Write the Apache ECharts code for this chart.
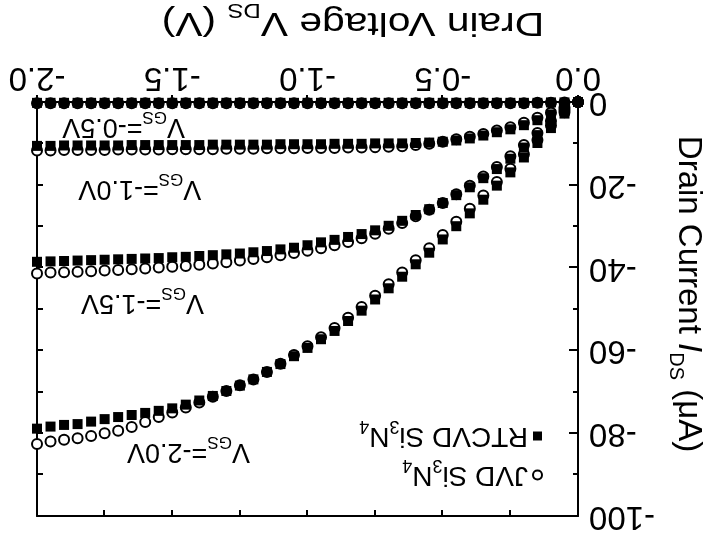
<!DOCTYPE html>
<html><head><meta charset="utf-8">
<script src="https://cdn.jsdelivr.net/npm/echarts@6/dist/echarts.min.js"></script>
<style>
html,body{margin:0;padding:0;background:#fff;overflow:hidden}
#wrap{width:703px;height:537px;transform:rotate(180deg);transform-origin:50% 50%}
#c{width:703px;height:537px}
</style></head>
<body><div id="wrap"><div id="c"></div></div>
<script>
// Drain voltage V_DS (V)
const vds = [0, -0.05, -0.1, -0.15, -0.2, -0.25, -0.3, -0.35, -0.4, -0.45, -0.5, -0.55, -0.6, -0.65, -0.7, -0.75, -0.8, -0.85, -0.9, -0.95, -1.0,
  -1.05, -1.1, -1.15, -1.2, -1.25, -1.3, -1.35, -1.4, -1.45, -1.5, -1.55, -1.6, -1.65, -1.7, -1.75, -1.8, -1.85, -1.9, -1.95, -2.0];

// RTCVD Si3N4 (filled squares), I_DS in uA
const rtcvd_vgs05 = [0, -0.1, -0.1, -0.2, -0.2, -0.2, -0.2, -0.2, -0.2, -0.2, -0.2, -0.2, -0.2, -0.2, -0.2, -0.2, -0.2, -0.2, -0.2, -0.2, -0.2,
  -0.2, -0.2, -0.2, -0.2, -0.2, -0.2, -0.2, -0.2, -0.2, -0.2, -0.2, -0.2, -0.2, -0.2, -0.2, -0.2, -0.2, -0.2, -0.2, -0.2];
const rtcvd_vgs10 = [0, -1.5, -3.0, -4.4, -5.6, -6.6, -7.3, -8.1, -8.8, -9.3, -9.6, -9.8, -9.9, -10.0, -10.0, -10.0, -10.1, -10.1, -10.1, -10.2, -10.2,
  -10.2, -10.2, -10.3, -10.3, -10.3, -10.3, -10.3, -10.4, -10.4, -10.4, -10.4, -10.4, -10.4, -10.5, -10.5, -10.5, -10.5, -10.5, -10.6, -10.6];
const rtcvd_vgs15 = [0, -2.2, -5.0, -8.0, -11.0, -13.7, -16.2, -18.4, -20.6, -22.5, -24.4, -25.9, -27.3, -28.7, -29.9, -31.0, -31.9, -32.6, -33.3, -33.9, -34.6,
  -35.2, -35.6, -36.0, -36.3, -36.6, -36.8, -37.0, -37.2, -37.4, -37.5, -37.7, -37.8, -37.9, -38.0, -38.1, -38.2, -38.3, -38.4, -38.5, -38.6];
const rtcvd_vgs20 = [0, -2.8, -6.3, -9.9, -13.4, -17.0, -20.2, -23.6, -26.9, -30.0, -33.2, -36.4, -39.2, -42.2, -45.0, -47.7, -50.4, -52.9, -55.3, -57.3, -59.4,
  -61.4, -63.3, -65.2, -67.0, -68.5, -69.8, -71.0, -72.1, -73.1, -74.0, -74.6, -75.1, -75.6, -76.1, -76.6, -77.2, -77.8, -78.0, -78.4, -78.9];

// JVD Si3N4 (open circles), I_DS in uA
const jvd_vgs05 = [0, -0.1, -0.2, -0.2, -0.3, -0.3, -0.3, -0.3, -0.3, -0.3, -0.3, -0.3, -0.3, -0.3, -0.3, -0.3, -0.3, -0.3, -0.3, -0.3, -0.3,
  -0.3, -0.3, -0.3, -0.3, -0.3, -0.3, -0.3, -0.3, -0.3, -0.3, -0.3, -0.3, -0.3, -0.3, -0.3, -0.3, -0.3, -0.3, -0.3, -0.3];
const jvd_vgs10 = [0, -1.3, -2.6, -3.8, -5.0, -6.1, -6.9, -7.7, -8.4, -9.0, -9.6, -10.1, -10.4, -10.7, -10.8, -10.9, -11.0, -11.0, -11.1, -11.1, -11.1,
  -11.2, -11.2, -11.2, -11.3, -11.3, -11.3, -11.4, -11.4, -11.4, -11.4, -11.5, -11.5, -11.5, -11.5, -11.6, -11.6, -11.6, -11.6, -11.7, -11.7];
const jvd_vgs15 = [0, -1.9, -4.6, -7.5, -10.4, -13.1, -15.7, -18.0, -20.2, -22.3, -24.4, -26.0, -27.6, -29.2, -30.6, -31.8, -32.9, -33.8, -34.6, -35.3, -35.9,
  -36.5, -37.0, -37.5, -37.9, -38.3, -38.7, -39.0, -39.3, -39.6, -39.8, -40.0, -40.2, -40.4, -40.6, -40.7, -40.9, -41.0, -41.1, -41.2, -41.4];
const jvd_vgs20 = [0, -2.5, -5.7, -9.2, -12.6, -16.1, -19.3, -22.6, -25.8, -28.9, -32.1, -35.3, -38.2, -41.2, -44.0, -46.8, -49.5, -52.1, -54.6, -56.8, -59.0,
  -61.1, -63.2, -65.2, -67.0, -68.4, -69.8, -71.2, -72.6, -73.8, -75.0, -76.1, -77.3, -78.5, -79.4, -80.0, -80.7, -81.2, -81.6, -82.0, -82.6];

// Tick labels
const xTickValues = [0, -0.5, -1.0, -1.5, -2.0];
const xTickLabels = ['0.0', '-0.5', '-1.0', '-1.5', '-2.0'];
const yTickValues = [0, -20, -40, -60, -80, -100];
const yTickLabels = ['0', '-20', '-40', '-60', '-80', '-100'];

// Curve annotations: [V_DS, I_DS, V_GS text]
const annotations = [
  [-1.68, -6.0, '-0.5'],
  [-1.62, -21.0, '-1.0'],
  [-1.61, -48.5, '-1.5'],
  [-1.44, -84.5, '-2.0']
];

const FONT = "'Liberation Sans', Arial, Helvetica, sans-serif";
const pair = (ys) => vds.map((v, i) => [v, ys[i]]);
const lookup = (vals, labels) => (v) => {
  for (let i = 0; i < vals.length; i++) if (Math.abs(vals[i] - v) < 1e-9) return labels[i];
  return '';
};

const jvdStyle = { color: '#fff', borderColor: '#000', borderWidth: 2, opacity: 1 };
const rtStyle = { color: '#000', opacity: 1 };
const mk = (name, data, symbol, style, size) => ({
  type: 'scatter', name, data: pair(data), symbol, symbolSize: size,
  itemStyle: style, clip: false, emphasis: { disabled: true }
});

const subRich = (fs, sfs, pad) => ({
  t: { fontSize: fs, fontFamily: FONT, color: '#000' },
  i: { fontSize: fs, fontFamily: FONT, color: '#000', fontStyle: 'italic' },
  s: { fontSize: sfs, lineHeight: sfs, fontFamily: FONT, color: '#000', padding: [pad, 0, 0, 0] }
});

const series = [
  mk('JVD', jvd_vgs05, 'circle', jvdStyle, 10),
  mk('JVD', jvd_vgs10, 'circle', jvdStyle, 10),
  mk('JVD', jvd_vgs15, 'circle', jvdStyle, 10),
  mk('JVD', jvd_vgs20, 'circle', jvdStyle, 10),
  mk('RTCVD', rtcvd_vgs05, 'rect', rtStyle, 10),
  mk('RTCVD', rtcvd_vgs10, 'rect', rtStyle, 10),
  mk('RTCVD', rtcvd_vgs15, 'rect', rtStyle, 10),
  mk('RTCVD', rtcvd_vgs20, 'rect', rtStyle, 10),
  {
    type: 'scatter', name: 'labels', symbolSize: 0, silent: true, clip: false,
    itemStyle: { opacity: 1, color: '#000' },
    data: annotations.map(a => ({ value: [a[0], a[1]], txt: a[2] })),
    label: {
      show: true, position: 'inside', opacity: 1, color: '#000',
      formatter: (p) => '{t|V}{s|GS}{t|=' + p.data.txt + 'V}',
      rich: subRich(27, 17, 20)
    }
  }
];

const axisLine = { show: true, onZero: false, lineStyle: { color: '#000', width: 2 } };

const option = {
  animation: false,
  backgroundColor: '#fff',
  grid: { left: 125, right: 37, top: 21, bottom: 102, containLabel: false, outerBoundsMode: 'none' },
  legend: {
    data: [{ name: 'JVD', icon: 'circle' }, { name: 'RTCVD', icon: 'rect' }],
    orient: 'vertical', left: 155, top: 38, itemWidth: 9, itemHeight: 9, itemGap: 1,
    selectedMode: false,
    formatter: (n) => n === 'JVD' ? '{t|JVD Si}{s|3}{t|N}{s|4}' : '{t|RTCVD Si}{s|3}{t|N}{s|4}',
    textStyle: { color: '#000', rich: subRich(28, 18, 20) }
  },
  graphic: [{
    type: 'text', x: 350, y: 515, scaleX: 1.2, silent: true,
    style: {
      text: '{t|Drain Voltage V}{s|DS}{t| (V)}',
      rich: subRich(34, 20, 24),
      align: 'center', verticalAlign: 'middle', fill: '#000'
    }
  }],
  xAxis: [
    {
      type: 'value', min: -2, max: 0, interval: 0.5, inverse: true, position: 'bottom',
      axisLine, splitLine: { show: false },
      axisTick: { inside: false, length: 7, lineStyle: { color: '#000', width: 2 } },
      axisLabel: { margin: 8, fontSize: 33, color: '#000', fontFamily: FONT, formatter: lookup(xTickValues, xTickLabels) }
    },
    {
      type: 'value', min: -2, max: 0, interval: 0.25, inverse: true, position: 'top',
      axisLine, splitLine: { show: false },
      axisTick: { inside: true, length: 6, lineStyle: { color: '#000', width: 2 } },
      axisLabel: { show: false }
    }
  ],
  yAxis: [
    {
      type: 'value', min: -100, max: 0, interval: 20, inverse: true, position: 'left',
      axisLine, splitLine: { show: false },
      axisTick: { inside: true, length: 9, lineStyle: { color: '#000', width: 2 } },
      minorTick: { show: true, splitNumber: 2, length: 5, lineStyle: { color: '#000', width: 2 } },
      axisLabel: { margin: 11, fontSize: 33, color: '#000', fontFamily: FONT, formatter: lookup(yTickValues, yTickLabels) },
      name: '{t|Drain Current }{i|I}{s|DS}{t| (μA)}', nameLocation: 'middle', nameGap: 74, nameRotate: 90,
      nameTextStyle: { padding: [0, 30, 0, 0], rich: subRich(33, 20, 24) }
    },
    {
      type: 'value', min: -100, max: 0, interval: 10, inverse: true, position: 'right',
      axisLine, splitLine: { show: false },
      axisTick: { inside: true, length: 6, lineStyle: { color: '#000', width: 2 } },
      axisLabel: { show: false }
    }
  ],
  series
};

const chart = echarts.init(document.getElementById('c'), null, { renderer: 'canvas' });
chart.setOption(option);
</script>
</body></html>
